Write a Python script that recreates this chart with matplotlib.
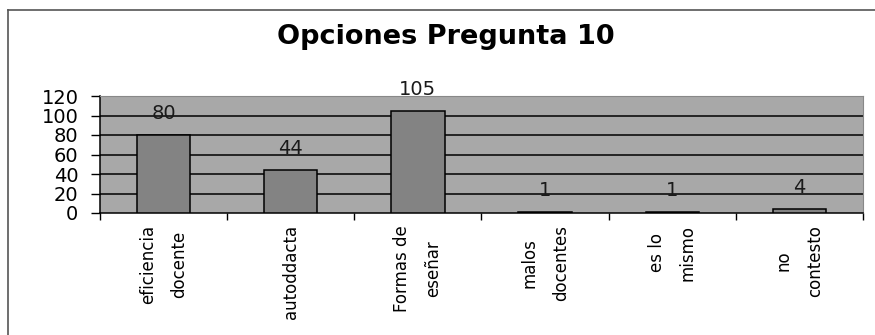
import matplotlib
matplotlib.use("Agg")
import matplotlib.pyplot as plt
from matplotlib.lines import Line2D
import numpy as np

# Survey question 10: answer options and counts
categorias = ["eficiencia\ndocente", "autoddacta", "Formas de\neseñar",
              "malos\ndocentes", "es lo\nmismo", "no\ncontesto"]
valores = [80, 44, 105, 1, 1, 4]
titulo = "Opciones Pregunta 10"
y_ticks = [0, 20, 40, 60, 80, 100, 120]

plt.rcParams["font.family"] = ["DejaVu Sans"]

fig = plt.figure(figsize=(8.75, 3.35), dpi=100)
fig.patch.set_facecolor("white")

# outer chart frame (left and top edges visible)
fx, fy = 8 / 875, 1 - 10 / 335
fig.add_artist(Line2D([fx, fx], [-0.05, fy], transform=fig.transFigure,
                      color="#555555", linewidth=1.2))
fig.add_artist(Line2D([fx, 1.05], [fy, fy], transform=fig.transFigure,
                      color="#555555", linewidth=1.2))

ax = fig.add_axes([100 / 875, 122 / 335, 763 / 875, 117 / 335])
ax.set_facecolor("#a8a8a8")

x = np.arange(len(categorias))
ax.bar(x, valores, width=0.42, color="#838383", edgecolor="black",
       linewidth=1.1, zorder=3)

for xi, v in zip(x, valores):
    ax.annotate(str(v), (xi, v), xytext=(0, 15.5), textcoords="offset points",
                ha="center", va="center", fontsize=14, color="#1a1a1a",
                zorder=4)

ax.set_xlim(-0.5, len(categorias) - 0.5)
ax.set_ylim(0, 120)
ax.set_yticks(y_ticks)
ax.set_yticklabels([str(t) for t in y_ticks], fontsize=14)
ax.tick_params(axis="y", direction="out", length=6.5, width=1.0, pad=9,
               color="black")

# category ticks sit on the boundaries between bars
ax.set_xticks(np.arange(len(categorias) + 1) - 0.5)
ax.set_xticklabels([])
ax.tick_params(axis="x", direction="out", length=5, width=1.0, color="black")
ax.set_xticks(x, minor=True)
ax.set_xticklabels(categorias, minor=True, rotation=90, fontsize=12,
                   va="top", ha="center", multialignment="center",
                   linespacing=1.95)
ax.tick_params(axis="x", which="minor", length=0, pad=8.5)

for g in y_ticks[1:-1]:
    ax.axhline(g, color="black", linewidth=1.1, zorder=2)

ax.spines["left"].set_color("black")
ax.spines["bottom"].set_color("black")
ax.spines["left"].set_linewidth(1.1)
ax.spines["bottom"].set_linewidth(1.1)
ax.spines["top"].set_color("#888888")
ax.spines["right"].set_color("#888888")

fig.text(446 / 875, 1 - 37 / 335, titulo, ha="center", va="center",
         fontsize=19.5, fontweight="bold", color="black")

fig.savefig("out.png", dpi=100, facecolor="white")
